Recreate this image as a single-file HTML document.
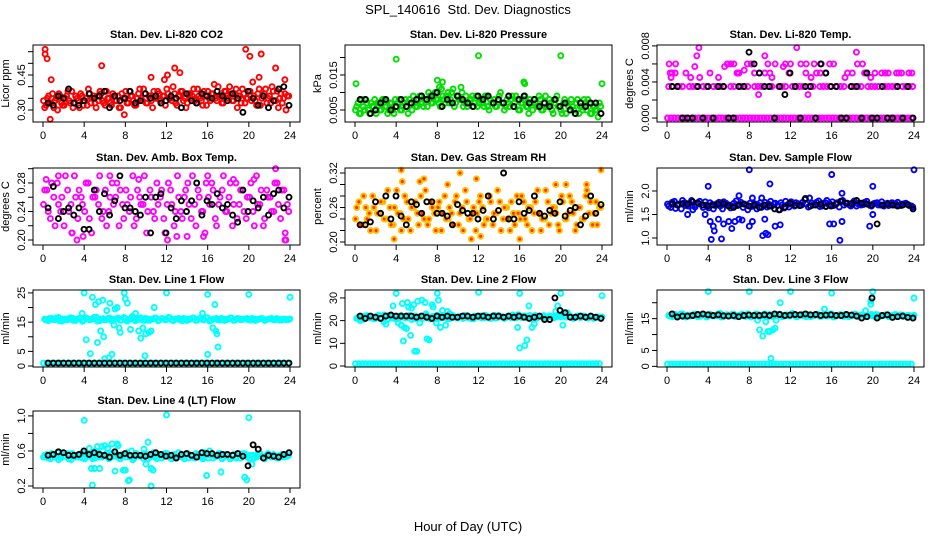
<!DOCTYPE html>
<html><head><meta charset="utf-8"><style>
html,body{margin:0;padding:0;background:#fff}
svg{display:block;font-family:"Liberation Sans",sans-serif}
</style></head><body>
<svg id="chart" width="936" height="540" viewBox="0 0 936 540">
<rect x="0" y="0" width="936" height="540" fill="#fff"/>
<text x="468" y="14" text-anchor="middle" font-size="13" xml:space="preserve">SPL_140616  Std. Dev. Diagnostics</text>
<text x="468" y="531" text-anchor="middle" font-size="13">Hour of Day (UTC)</text>
</svg>
<script>
const xTicks=[0,4,8,12,16,20,24];
const xTickLabels=["0","4","8","12","16","20","24"];

const p1A=[.34,.32,.36,.33,.31,.35,.37,.33,.32,.36,.34,.38,.33,.35,.31,.36,.34,.32,.37,.35,.33,.36,.38,.34,.32,.35,.33,.37,.34,.36,.31,.35,.38,.33,.36,.34,.32,.37,.35,.39,.33,.36,.34,.38,.35,.37,.33,.36,.39,.35,.34,.37,.32,.36,.38,.35,.33,.37,.36,.34,.39,.35,.32,.36,.38,.34,.37,.35,.40,.36,.33,.38,.35,.37,.34,.39,.36,.33,.37,.35,.38,.34,.36,.32,.39,.35,.37,.33,.36,.40,.34,.38,.35,.33,.37,.36];
const p1B=[.31,.35,.33,.37,.34,.30,.36,.32,.35,.38,.33,.31,.36,.34,.37,.32,.35,.39,.33,.36,.31,.34,.37,.33,.38,.35,.32,.36,.34,.31,.37,.35,.33,.38,.36,.32,.35,.39,.34,.37,.33,.36,.31,.35,.38,.34,.36,.32,.37,.35,.40,.33,.36,.38,.34,.31,.37,.35,.39,.33,.36,.34,.38,.32,.35,.37,.41,.34,.36,.33,.38,.35,.40,.34,.37,.31,.36,.39,.33,.35,.38,.42,.34,.37,.32,.36,.39,.35,.33,.38,.34,.31,.37,.35,.30,.36];
const p1K=[.33,.32,.36,.35,.39,.33,.32,.34,.37,.35,.36,.38,.31,.36,.34,.35,.38,.33,.34,.37,.35,.36,.33,.34,.36,.35,.31,.37,.34,.33,.37,.36,.35,.38,.36,.34,.37,.35,.29,.38,.35,.32,.36,.31,.34,.39,.40,.32];
const p1XH=[0.2,0.2,0.4,0.8,0.7,5.7,19.7,20.1,21.2,22.6,12.1,12.8,13.3,10.5,11.8,21,23.5,7.9];
const p1XV=[.56,.54,.52,.43,.26,.49,.56,.53,.54,.48,.45,.48,.46,.44,.43,.44,.43,.28];

const p2A=[.005,.007,.004,.006,.008,.005,.007,.006,.004,.007,.005,.008,.006,.005,.007,.004,.006,.008,.005,.007,.006,.008,.005,.007,.006,.009,.007,.008,.006,.009,.007,.010,.008,.006,.009,.007,.010,.008,.011,.007,.009,.008,.006,.009,.007,.008,.006,.009,.007,.008,.006,.009,.005,.007,.008,.006,.009,.007,.005,.008,.006,.009,.007,.008,.005,.007,.009,.006,.008,.005,.007,.006,.008,.005,.009,.006,.007,.004,.008,.006,.005,.007,.004,.006,.008,.005,.007,.004,.006,.008,.005,.007,.004,.006,.005,.007];
const p2B=[.006,.004,.008,.005,.007,.004,.006,.008,.007,.005,.008,.006,.004,.007,.005,.008,.007,.005,.006,.008,.004,.007,.009,.006,.008,.007,.006,.008,.010,.007,.009,.008,.007,.011,.008,.009,.007,.010,.006,.009,.008,.010,.007,.006,.008,.009,.007,.006,.008,.007,.009,.006,.008,.007,.006,.008,.010,.007,.006,.007,.008,.006,.009,.005,.007,.008,.006,.004,.007,.008,.006,.009,.005,.007,.006,.008,.005,.007,.009,.006,.004,.008,.007,.005,.006,.004,.008,.006,.005,.007,.008,.004,.006,.005,.003,.006];
const p2K=[.008,.008,.004,.005,.007,.008,.005,.006,.008,.006,.007,.008,.009,.008,.009,.010,.006,.008,.007,.009,.008,.007,.006,.009,.008,.009,.007,.008,.007,.009,.006,.008,.009,.007,.008,.006,.007,.006,.008,.006,.007,.005,.004,.007,.006,.007,.007,.004];
const p2XH=[0.1,4,8,8.5,12,16.4,16.5,20,24,8.2,10.3];
const p2XV=[.0125,.0195,.0135,.013,.0205,.013,.0125,.0205,.0125,.0115,.0115];

const p3A=[3.5,3.5,6,3.5,3.5,5,3.5,3.5,3.5,4.5,3.5,3.5,5,3.5,3.5,3.5,3.5,6,3.5,3.5,5,3.5,3.5,3.5,6,3.5,3.5,3.5,5,3.5,3.5,6,3.5,3.5,3.5,5,3.5,3.5,3.5,3.5,6,3.5,3.5,5,3.5,3.5,3.5,3.5,6,3.5,3.5,3.5,5,3.5,3.5,3.5,3.5,5,3.5,3.5,3.5,3.5,5,3.5,3.5,3.5,3.5,5,3.5,3.5,3.5,3.5];
const p3B=[0,0,0,0,0,0,0,0,0,0,0,0,0,0,0,0,0,0,0,0,0,0,0,0,0,0,0,0,0,0,0,0,0,0,0,0,0,0,0,0,0,0,0,0,0,0,0,0,0,0,0,0,0,0,0,0,0,0,0,0,0,0,0,0,0,0,0,0,0,0,0,0];
const p3K=[3.5,3.5,0,0,0,3.5,0,3.5,0,3.5,3.5,0,0,3.5,3.5,7.3,6,5,3.5,3.5,0,3.5,2.6,5,3.5,0,3.5,3.5,0,6,5,3.5,3.5,0,0,3.5,3.5,0,5,0,0,3.5,0,0,3.5,0,3.5,0];
const p3XH=[0.2,0.3,0.5,0.8,0.4,2.3,2.7,2.9,3.1,5,5.6,5.9,6.2,6.5,7,7.5,7.8,8.2,8.5,9.5,9.8,10,10.2,11.3,11.5,12,12.6,13,13.5,14,14.3,14.9,15.4,15.8,17.3,18,18.4,19,19.3,19.8,21.5,22.3,22.8,23.5,23.8,18.5,15,8.9,13.7,6.8,9,20.2,21.2];
const p3XV=[6,5,5,5,4.5,4.5,5.7,6.9,7.8,4.5,5.7,6,6,6,5,5.3,6,6,5,6.9,6,5,4.5,5.7,6,6,7.8,6,5,4.5,6,5,5,6,4.5,5,7.3,6,5,4.5,5,5,5,5,5,6,6,2.6,2.6,5,5,5,5];

const p4A=[.25,.27,.23,.26,.28,.24,.22,.27,.25,.29,.23,.26,.24,.28,.21,.26,.25,.23,.27,.24,.28,.26,.22,.25,.27,.24,.29,.23,.26,.25,.21,.27,.24,.28,.26,.23,.25,.27,.22,.29,.24,.26,.28,.23,.25,.27,.24,.21,.26,.28,.23,.25,.27,.24,.26,.22,.28,.25,.27,.23,.26,.24,.29,.25,.22,.27,.26,.24,.28,.23,.27,.25];
const p4B=[.27,.24,.28,.22,.25,.26,.29,.24,.21,.26,.27,.25,.28,.23,.26,.27,.29,.24,.22,.26,.25,.28,.27,.23,.25,.26,.22,.27,.25,.29,.24,.26,.23,.25,.27,.21,.28,.25,.24,.26,.23,.27,.25,.29,.22,.26,.24,.28,.25,.27,.22,.26,.29,.24,.28,.25,.23,.27,.24,.26,.28,.22,.25,.27,.23,.26,.24,.28,.25,.27,.21,.24];
const p4K=[.245,.275,.23,.24,.245,.235,.245,.215,.215,.27,.24,.265,.235,.255,.29,.245,.245,.24,.235,.26,.21,.26,.265,.21,.245,.23,.255,.24,.255,.28,.235,.255,.25,.265,.245,.25,.235,.225,.27,.24,.255,.245,.26,.235,.265,.27,.245,.26];
const p4XH=[2.8,3.3,3.9,12.1,13,14,15.6,23.5,23.6,22.6,16,0.3,1.5,6.5,9.3,18.5,20.5];
const p4XV=[.21,.20,.205,.20,.205,.205,.205,.20,.20,.30,.29,.285,.29,.29,.285,.285,.285];

const p5A=[.24,.27,.23,.26,.25,.28,.22,.25,.27,.24,.26,.23,.29,.25,.24,.27,.22,.26,.25,.28,.24,.23,.27,.25,.26,.22,.28,.24,.25,.27,.23,.26,.29,.24,.25,.22,.27,.26,.24,.28,.23,.25,.27,.24,.26,.22,.25,.28,.24,.27,.23,.26,.25,.29,.22,.24,.27,.25,.26,.23,.28,.24,.25,.27,.22,.26,.24,.28,.25,.23,.27,.26];
const p5B=[.26,.23,.28,.24,.22,.26,.25,.27,.24,.29,.23,.26,.25,.22,.28,.24,.26,.27,.23,.25,.29,.24,.26,.22,.27,.25,.24,.26,.23,.28,.25,.22,.27,.24,.26,.25,.28,.23,.24,.27,.25,.29,.22,.26,.24,.27,.23,.25,.28,.24,.26,.22,.27,.25,.24,.29,.23,.26,.25,.22,.27,.24,.28,.25,.23,.26,.24,.29,.27,.25,.23,.26];
const p5K=[.23,.23,.235,.27,.25,.28,.24,.28,.245,.23,.27,.265,.25,.27,.27,.25,.25,.245,.23,.265,.255,.25,.25,.24,.255,.28,.24,.255,.32,.24,.24,.27,.25,.255,.28,.25,.245,.255,.25,.27,.245,.255,.26,.23,.245,.28,.25,.265];
const p5XH=[4.5,4.6,6.3,6.7,10.2,11.8,23.9,11.3,12.2,16,3.8,9,19.5,20.5,22.5];
const p5XV=[.325,.305,.305,.31,.32,.31,.325,.205,.21,.205,.205,.30,.30,.30,.30];

const p6A=[1.72,1.65,1.78,1.7,1.62,1.75,1.68,1.8,1.66,1.73,1.7,1.77,1.64,1.71,1.69,1.76,1.62,1.74,1.7,1.67,1.79,1.72,1.65,1.7,1.74,1.68,1.62,1.75,1.7,1.66,1.78,1.72,1.69,1.75,1.64,1.71,1.77,1.68,1.73,1.7,1.82,1.66,1.74,1.71,1.79,1.68,1.75,1.7,1.77,1.72,1.66,1.8,1.73,1.7,1.76,1.68,1.74,1.71,1.78,1.69,1.73,1.75,1.7,1.68,1.74,1.72,1.7,1.76,1.69,1.73,1.71,1.68];
const p6B=[1.68,1.76,1.63,1.72,1.8,1.69,1.74,1.6,1.71,1.78,1.65,1.7,1.75,1.62,1.73,1.68,1.77,1.7,1.64,1.74,1.69,1.76,1.72,1.6,1.67,1.73,1.7,1.65,1.76,1.72,1.68,1.74,1.6,1.7,1.78,1.66,1.72,1.75,1.69,1.76,1.72,1.85,1.7,1.76,1.67,1.74,1.8,1.72,1.69,1.75,1.78,1.7,1.74,1.68,1.79,1.73,1.7,1.76,1.72,1.68,1.74,1.7,1.77,1.71,1.69,1.75,1.73,1.7,1.72,1.74,1.69,1.66];
const p6K=[1.72,1.7,1.73,1.72,1.77,1.75,1.7,1.68,1.7,1.72,1.73,1.68,1.65,1.7,1.72,1.68,1.7,1.65,1.7,1.68,1.62,1.6,1.66,1.74,1.7,1.69,1.84,1.68,1.7,1.72,1.67,1.68,1.72,1.78,1.74,1.73,1.8,1.74,1.72,1.7,1.3,1.7,1.72,1.7,1.68,1.7,1.71,1.62];
const p6XH=[4,8,10,16,20,24,4.2,4.3,4.5,4.6,5,5.3,5.5,6,6.3,6.6,7,7.3,8,8.3,9.3,9.6,9.8,9.5,10.5,11,15.8,16.2,16.8,17,19.7,20,2,3.7,7,8.3,9.2,17];
const p6XV=[2.1,2.45,2.15,2.35,2.1,2.45,1.35,0.97,1.25,1.15,1.4,0.98,1.3,1.35,1.2,1.35,1.4,1.38,1.25,1.35,1.05,1.1,1.07,1.4,1.25,1.28,1.3,1.3,0.95,1.35,1.25,1.5,1.5,1.5,1.9,1.85,1.85,1.95];

const p7A=[16,15.5,16.3,15.8,16.6,15.4,16.1,15.9,16.4,15.6,16.2,15.3,16.5,15.8,16,16.7,15.5,16.2,15.9,16.4,15.6,16.1,15.7,16.6,15.4,16,16.3,15.8,16.5,15.6,16.1,15.9,16.4,15.5,16.2,15.8,16.6,15.7,16,16.3,15.5,16.1,15.9,16.4,15.6,16.2,15.8,16.5,15.4,16,16.3,15.7,16.1,15.9,16.4,15.6,16.2,15.8,16,16.3,15.7,16.1,15.9,16.2,15.6,16,16.3,15.8,16.1,15.7,16,15.9];
const p7B=[15.7,16.2,15.9,16.4,15.5,16.1,15.8,16.5,15.6,16,16.3,15.7,16.2,15.9,16.6,15.4,16.1,15.8,16.3,15.6,16,16.4,15.7,16.2,15.9,16.5,15.5,16.1,15.8,16.3,15.6,16,16.4,15.7,16.2,15.9,16.5,15.5,16.1,15.8,16.3,15.6,16,16.4,15.7,16.2,15.9,16.5,15.6,16.1,15.8,16.3,15.6,16,16.4,15.7,16.2,15.9,16.1,15.8,16.3,15.6,16,16.2,15.8,16.1,15.9,16.2,15.7,16,15.8,16.1];
const p7Z=[1,1,1,1,1,1,1,1,1,1,1,1,1,1,1,1,1,1,1,1,1,1,1,1,1,1,1,1,1,1,1,1,1,1,1,1,1,1,1,1,1,1,1,1,1,1,1,1,1,1,1,1,1,1,1,1,1,1,1,1,1,1,1,1,1,1,1,1,1,1,1,1];
const p7K=[1,1,1,1,1,1,1,1,1,1,1,1,1,1,1,1,1,1,1,1,1,1,1,1,1,1,1,1,1,1,1,1,1,1,1,1,1,1,1,1,1,1,1,1,1,1,1,1];
const p7XH=[4,4.2,4.6,4.8,5.1,5.3,5.4,5.6,5.8,5.9,6,6.2,6.4,6.5,6.7,6.9,7,7.2,7.4,7.5,7.9,8,8.2,8.5,8.7,9.3,9.5,9.7,9.9,10,10.3,10.5,10.8,12,16,16,16.5,16.7,16.8,16.9,17,20,24,3.8,9,15.5];
const p7XV=[25,9,4.2,23.5,21,8,22,12,22.5,10,2.5,19,2.8,21.5,4,14,19.5,20,13,11.5,25,23,21.5,12.5,17,12,9.5,13,3.5,11,11.5,12,20,25,24.5,4,13,21,12,11,6.5,24.5,23.5,18,18,18];

const p8A=[21,21.8,20.6,22.2,21.4,20.8,22,21.2,22.5,20.7,21.6,21.9,20.9,22.3,21.3,21.7,20.5,22.1,21.5,20.9,22.4,21.1,21.8,20.7,22,21.4,21.6,20.8,22.2,21.3,21.9,21,22.3,21.5,20.8,21.8,22.1,21.2,21.6,20.9,22.4,21.4,21.7,21,22,21.3,21.8,22.6,21.4,22,21.6,21.1,22.3,21.5,21.8,21,22.1,21.4,21.7,22.5,23,21.5,22.2,21,21.8,21.4,22,21.2,21.7,21,21.6,21.3];
const p8B=[21.5,20.7,22.1,21.3,21.9,20.9,22.4,21,21.7,22.2,21.1,20.8,22,21.6,21.2,22.3,21.4,20.9,21.8,22.1,21.3,20.7,21.9,22.4,21.2,21.7,20.9,22.2,21.5,21.1,21.8,22.3,21.4,20.8,22,21.6,21.2,22.4,21.5,21.9,21.1,22.2,21.6,21.3,21.8,22.5,21.2,21.7,22,21.4,22.3,21.6,21.1,21.9,22.2,21.5,21.8,21.2,22.4,21.6,22,23.5,21.7,21.3,22.1,21.5,21.9,21.2,21.8,21.4,21.6,21.7];
const p8Z=[1,1,1,1,1,1,1,1,1,1,1,1,1,1,1,1,1,1,1,1,1,1,1,1,1,1,1,1,1,1,1,1,1,1,1,1,1,1,1,1,1,1,1,1,1,1,1,1,1,1,1,1,1,1,1,1,1,1,1,1,1,1,1,1,1,1,1,1,1,1,1,1];
const p8K=[22,21,22,21.5,21,22,22.5,22,22,22,22,21.5,22,21.5,21,22,21.5,22,21.5,21.5,22,22,21.5,22,22,21.5,22,22,21.5,22,21.5,22,21.5,21,21.5,22,20.5,20.5,30,24.5,23.5,21.5,21.5,22,21.5,22,21.5,21];
const p8XH=[0.5,1,2.8,3,4,3.7,4.2,4.5,4.6,4.7,4.8,5,5.1,5.2,5.4,5.5,5.7,5.8,6,6.1,6.3,6.5,6.8,6.9,7,7.2,7.5,7.6,7.9,8,8.1,8.3,8.5,8.8,9,9.2,12,16,16,16.5,16.7,16.9,17.2,17.4,19.5,19.7,20,20.2,24,15.8];
const p8XV=[20,21,19.5,18.5,32,26.5,19,18,27.5,11,17,16.5,28,26,13.5,25.5,27,6.5,6.5,28.5,19,29,28,23,12,11.5,27,26,19,32,29,17,24.5,18,24,23,32.5,32,8,9,11.5,26.5,17,18.5,24,26.5,32,18,31,17];

const p9A=[16,15.6,16.3,15.8,16.5,15.5,16.1,15.9,16.4,15.7,16.2,15.5,16.4,15.8,16,16.6,15.6,16.2,15.9,16.4,15.7,16.1,15.8,16.5,15.5,16,16.3,15.8,16.5,15.6,16.1,15.9,16.4,15.6,16.2,15.8,16.6,15.7,16,16.3,15.6,16.1,15.9,16.4,15.7,16.2,15.8,16.5,15.5,16,16.3,15.7,16.1,15.9,16.4,15.6,16.2,15.8,16,16.3,15.7,16.1,15.9,16.2,15.6,16,16.3,15.8,16.1,15.7,16,15.9];
const p9B=[15.8,16.2,15.9,16.4,15.6,16.1,15.8,16.4,15.6,16,16.3,15.7,16.2,15.9,16.5,15.5,16.1,15.8,16.3,15.6,16,16.4,15.7,16.2,15.9,16.5,15.6,16.1,15.8,16.3,15.6,16,16.4,15.7,16.2,15.9,16.5,15.6,16.1,15.8,16.3,15.6,16,16.4,15.7,16.2,15.9,16.5,15.6,16.1,15.8,16.3,15.6,16,16.4,15.7,16.2,15.9,16.1,15.8,16.3,15.6,16,16.2,15.8,16.1,15.9,16.2,15.7,16,15.8,16.1];
const p9Z=[0.7,0.7,0.7,0.7,0.7,0.7,0.7,0.7,0.7,0.7,0.7,0.7,0.7,0.7,0.7,0.7,0.7,0.7,0.7,0.7,0.7,0.7,0.7,0.7,0.7,0.7,0.7,0.7,0.7,0.7,0.7,0.7,0.7,0.7,0.7,0.7,0.7,0.7,0.7,0.7,0.7,0.7,0.7,0.7,0.7,0.7,0.7,0.7,0.7,0.7,0.7,0.7,0.7,0.7,0.7,0.7,0.7,0.7,0.7,0.7,0.7,0.7,0.7,0.7,0.7,0.7,0.7,0.7,0.7,0.7,0.7,0.7];
const p9K=[16.5,15.5,15.8,15.8,16,16.3,16.5,16.2,16,16.2,15.9,15.8,16,15.6,16,16.1,16,16,16.2,16,16.5,16.3,16,16.1,16.3,16.2,16.5,16.2,16.3,16,16.1,16.2,16,16,16.3,16.1,15.8,15.2,15.6,21.5,15.2,16,16.2,15.4,15.6,15.8,15.4,15.2];
const p9XH=[4,8,12,16,24,9,9.3,9.6,9.8,10,10.3,10.5,10.1,11,15.3,19.3,20,8.8,10.6,19.8,19.8];
const p9XV=[23.5,23.5,23.5,23,21.5,11.5,9.5,14,11,11,11.5,12,2.5,20,18,17.5,23.5,14.5,14.5,20.5,19.5];

const p10A=[.53,.56,.51,.55,.58,.52,.54,.57,.5,.55,.53,.57,.51,.56,.54,.52,.58,.53,.55,.51,.57,.54,.52,.56,.53,.55,.5,.57,.54,.52,.56,.53,.58,.51,.55,.54,.57,.52,.56,.53,.55,.51,.57,.54,.52,.56,.53,.58,.52,.55,.54,.57,.51,.56,.53,.55,.52,.57,.54,.56,.51,.55,.53,.57,.52,.55,.54,.56,.52,.55,.53,.54];
const p10B=[.55,.52,.57,.53,.5,.56,.54,.51,.57,.53,.55,.52,.58,.54,.51,.56,.53,.55,.57,.52,.54,.56,.51,.55,.58,.53,.52,.56,.54,.57,.51,.55,.53,.56,.52,.57,.54,.51,.55,.58,.53,.56,.52,.54,.57,.53,.51,.55,.56,.52,.54,.57,.53,.55,.51,.56,.54,.52,.57,.53,.55,.52,.56,.54,.51,.57,.53,.55,.52,.56,.54,.55];
const p10K=[.55,.56,.59,.58,.55,.55,.56,.6,.56,.58,.56,.55,.53,.59,.55,.57,.55,.55,.55,.54,.56,.58,.56,.54,.55,.52,.56,.57,.55,.53,.58,.57,.57,.55,.56,.56,.55,.57,.54,.43,.67,.62,.52,.55,.54,.53,.56,.58];
const p10XH=[4,12,20,4.8,10.5,5,4.7,5.5,7,7.8,8,8.3,8.4,10.2,10.5,10.7,6.7,7.2,7.3,4.5,5.3,5.7,6,15.9,17.3,19.6,16.2,20.3,8.6,9.8,10,5.1,6.3,19.8];
const p10XV=[.95,1.01,.98,.21,.20,.4,.4,.4,.37,.38,.38,.26,.27,.7,.4,.38,.68,.68,.66,.63,.65,.65,.66,.32,.36,.3,.6,.45,.6,.62,.45,.6,.63,.27];

const CY="#00ffff";
const panels=[
 {name:"co2",title:"Stan. Dev. Li-820 CO2",yl:"Licor ppm",c:0,r:0,lo:.2486,hi:.5786,ticks:[.30,.35,.40,.45,.50,.55],labels:["0.30","","","0.45","",""],col:"#ff0000",bands:[p1A,p1B],xh:p1XH,xv:p1XV,k:p1K},
 {name:"pressure",title:"Stan. Dev. Li-820 Pressure",yl:"kPa",c:1,r:0,lo:.00157,hi:.02357,ticks:[.005,.010,.015,.020],labels:["0.005","","0.015",""],col:"#00e000",bands:[p2A,p2B],xh:p2XH,xv:p2XV,k:p2K},
 {name:"li820-temp",title:"Stan. Dev. Li-820 Temp.",yl:"degrees C",c:2,r:0,lo:-.44,hi:8.1,ticks:[0,2,4,6,8],labels:["0.000","","0.004","","0.008"],col:"#ff00ff",bands:[p3B,p3A],xh:p3XH,xv:p3XV,k:p3K},
 {name:"amb-box-temp",title:"Stan. Dev. Amb. Box Temp.",yl:"degrees C",c:0,r:1,lo:.193,hi:.301,ticks:[.20,.22,.24,.26,.28,.30],labels:["0.20","","0.24","","0.28",""],col:"#ff00ff",bands:[p4A,p4B],xh:p4XH,xv:p4XV,k:p4K},
 {name:"gas-stream-rh",title:"Stan. Dev. Gas Stream RH",yl:"percent",c:1,r:1,lo:.1948,hi:.3287,ticks:[.20,.22,.24,.26,.28,.30,.32],labels:["0.20","","","0.26","","","0.32"],col:"#ffc000",fill:"#ff3000",bands:[p5A,p5B],xh:p5XH,xv:p5XV,k:p5K},
 {name:"sample-flow",title:"Stan. Dev. Sample Flow",yl:"ml/min",c:2,r:1,lo:.851,hi:2.489,ticks:[1.0,1.5,2.0],labels:["1.0","1.5","2.0"],col:"#0000ff",bands:[p6A,p6B],xh:p6XH,xv:p6XV,k:p6K},
 {name:"line1-flow",title:"Stan. Dev. Line 1 Flow",yl:"ml/min",c:0,r:2,lo:-.34,hi:26,ticks:[0,5,10,15,20,25],labels:["0","5","","15","","25"],col:CY,bands:[p7Z,p7A,p7B],xh:p7XH,xv:p7XV,k:p7K},
 {name:"line2-flow",title:"Stan. Dev. Line 2 Flow",yl:"ml/min",c:1,r:2,lo:-.44,hi:33.5,ticks:[0,10,20,30],labels:["0","10","20","30"],col:CY,bands:[p8Z,p8A,p8B],xh:p8XH,xv:p8XV,k:p8K},
 {name:"line3-flow",title:"Stan. Dev. Line 3 Flow",yl:"ml/min",c:2,r:2,lo:-.2,hi:24,ticks:[0,5,10,15,20],labels:["0","5","","15",""],col:CY,bands:[p9Z,p9A,p9B],xh:p9XH,xv:p9XV,k:p9K},
 {name:"line4-flow",title:"Stan. Dev. Line 4 (LT) Flow",yl:"ml/min",c:0,r:3,lo:.177,hi:1.056,ticks:[.2,.4,.6,.8,1.0],labels:["0.2","","0.6","","1.0"],col:CY,bands:[p10A,p10B],xh:p10XH,xv:p10XV,k:p10K}
];
const NS="http://www.w3.org/2000/svg";
const svg=document.getElementById("chart");
const rowTop=[45,168,290,411];
function mk(tag,attrs,parent){const e=document.createElementNS(NS,tag);for(const a in attrs)e.setAttribute(a,attrs[a]);(parent||svg).appendChild(e);return e;}
panels.forEach(p=>{
 const L=33+312*p.c, T=rowTop[p.r], W=267, H=77, B=T+H;
 const g=mk("g",{});
 
 
 const xs=h=>L+10+h*247/24;
 const ys=v=>B-(v-p.lo)/(p.hi-p.lo)*H;
 const t=mk("text",{x:L+W/2,y:T-7,"text-anchor":"middle","font-size":"11","font-weight":"bold"},g);t.textContent=p.title;
 
 
 const yl=mk("text",{transform:`translate(${L-24},${T+H/2}) rotate(-90)`,"text-anchor":"middle","font-size":"11"},g);yl.textContent=p.yl;
 
 
 const pts=mk("g",{fill:p.fill||"none",stroke:p.col,"stroke-width":"1.9"},g);
 
 
 p.bands.forEach((arr,bi)=>{
  const n=arr.length;
  arr.forEach((v,i)=>{
   const h=0.05+bi*0.12+i*(23.7/(n-1));
   const c=mk("circle",{cx:xs(h).toFixed(1),cy:ys(v).toFixed(1),r:2.5},pts);
   
   
  });
 });
 p.xh.forEach((h,i)=>{
  const c=mk("circle",{cx:xs(h).toFixed(1),cy:ys(p.xv[i]).toFixed(1),r:2.5},pts);
  
  
 });
 const kg=mk("g",{fill:"none",stroke:"#000","stroke-width":"1.9"},g);
 
 
 p.k.forEach((v,i)=>{
  const h=0.5+i*(23.4/(p.k.length-1));
  const c=mk("circle",{cx:xs(h).toFixed(1),cy:ys(v).toFixed(1),r:2.5},kg);
  
  
 });
 const box=mk("rect",{x:L,y:T,width:W,height:H,fill:"none",stroke:"#000","stroke-width":"1"},g);
 
 
 const xa=mk("g",{stroke:"#000","stroke-width":"1"},g);
 
 
 mk("line",{x1:xs(0),x2:xs(24),y1:B,y2:B},xa);
 xTicks.forEach((v,i)=>{
  mk("line",{x1:xs(v),x2:xs(v),y1:B,y2:B+5},xa);
  const tl=mk("text",{x:xs(v),y:B+17,"text-anchor":"middle","font-size":"11",stroke:"none",fill:"#000"},xa);tl.textContent=xTickLabels[i];
  
  
 });
 const ya=mk("g",{stroke:"#000","stroke-width":"1"},g);
 
 
 p.ticks.forEach((v,i)=>{
  const y=ys(v);
  mk("line",{x1:L-5,x2:L,y1:y,y2:y},ya);
  if(p.labels[i]){
   const tl=mk("text",{transform:`translate(${L-8},${y}) rotate(-90)`,"text-anchor":"middle","font-size":"11",stroke:"none",fill:"#000"},ya);tl.textContent=p.labels[i];
   
   
  }
 });
});
</script>
</body></html>
